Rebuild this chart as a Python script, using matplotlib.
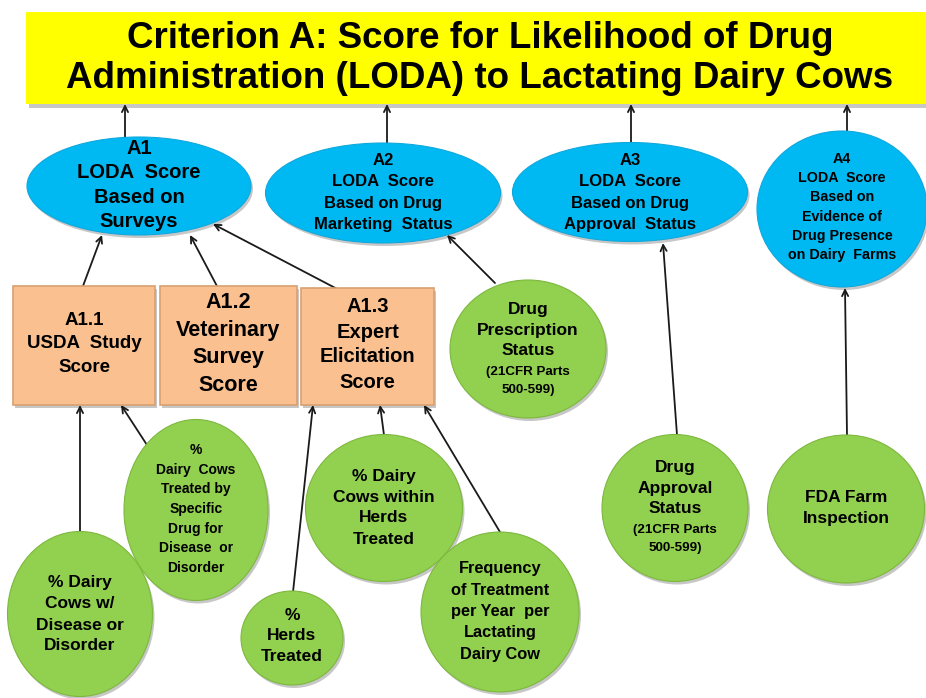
import matplotlib
matplotlib.use("Agg")
import matplotlib.pyplot as plt
from matplotlib.patches import Ellipse, Rectangle

# ---------------- content ----------------
title_lines = ["Criterion A: Score for Likelihood of Drug",
               "Administration (LODA) to Lactating Dairy Cows"]

score_labels = ["A1\nLODA  Score\nBased on\nSurveys",
                "A2\nLODA  Score\nBased on Drug\nMarketing  Status",
                "A3\nLODA  Score\nBased on Drug\nApproval  Status",
                "A4\nLODA  Score\nBased on\nEvidence of\nDrug Presence\non Dairy  Farms"]

box_labels = ["A1.1\nUSDA  Study\nScore",
              "A1.2\nVeterinary\nSurvey\nScore",
              "A1.3\nExpert\nElicitation\nScore"]

input_labels = ["% Dairy\nCows w/\nDisease or\nDisorder",
                "%\nDairy  Cows\nTreated by\nSpecific\nDrug for\nDisease  or\nDisorder",
                "%\nHerds\nTreated",
                "% Dairy\nCows within\nHerds\nTreated",
                "Frequency\nof Treatment\nper Year  per\nLactating\nDairy Cow",
                "Drug\nPrescription\nStatus",
                "Drug\nApproval\nStatus",
                "FDA Farm\nInspection"]
input_notes = ["", "", "", "", "", "(21CFR Parts\n500-599)", "(21CFR Parts\n500-599)", ""]

# ---------------- layout (pixel space) ----------------
W, H = 926, 698
BLUE = "#00B9F2"
GREEN = "#92D050"
PEACH = "#FAC090"
PEACH_EDGE = "#D9A070"
YELLOW = "#FFFF00"
LINE = "#1a1a1a"
FAM = ["Liberation Sans", "DejaVu Sans"]

# ellipses: (cx, cy, w, h, fontsize, linespacing, text_cy)
score_geom = [(139, 186, 224, 98, 14.5, 1.37, 185),
              (383, 193, 235, 100, 12.0, 1.52, 192.5),
              (630, 192, 235, 99, 12.0, 1.52, 192.5),
              (842, 209, 170, 156, 10.3, 1.46, 207)]
# boxes: (x0, y0, x1, y1, fontsize, linespacing, text_cy)
box_geom = [(13, 286, 155, 405, 13.5, 1.53, 344),
            (160, 286, 297, 405, 15.5, 1.4, 344),
            (301, 288, 434, 405, 14.5, 1.4, 344.5)]
# circles: (cx, cy, w, h, fontsize, linespacing, text_cy)
input_geom = [(80, 614, 145, 165, 12.5, 1.5, 614.5),
              (196, 510, 144, 181, 10.0, 1.5, 509),
              (292, 638, 102, 94, 12.5, 1.47, 636),
              (384, 508, 157, 147, 12.5, 1.5, 507.5),
              (500, 612, 158, 160, 11.8, 1.53, 611.5),
              (528, 349, 156, 138, 12.5, 1.42, 330),
              (675, 508, 146, 147, 12.5, 1.42, 488),
              (846, 509, 157, 148, 12.5, 1.5, 508)]
note_y = [None, None, None, None, None, 381, 539, None]

# arrows: (tail, head)
arrows = [((125, 138), (125, 104)), ((387, 143), (387, 104)),
          ((631, 143), (631, 104)), ((847, 131), (847, 104)),
          ((83, 286), (102, 235)), ((218, 288), (190, 235)),
          ((343, 292), (213, 224)),
          ((495, 283), (447, 235)), ((677, 435), (663, 243)),
          ((847, 435), (845, 288)),
          ((80, 533), (80, 405)), ((147, 445), (121, 405)),
          ((293, 592), (313, 405)), ((384, 435), (380, 405)),
          ((500, 532), (424, 405))]

fig = plt.figure(figsize=(W / 100, H / 100), dpi=100)
ax = fig.add_axes([0, 0, 1, 1])
ax.set_xlim(0, W)
ax.set_ylim(H, 0)
ax.axis("off")

SH = dict(color="#000000", alpha=0.22, lw=0)

# banner
ax.add_patch(Rectangle((29, 16), 900, 92, zorder=1, **SH))
ax.add_patch(Rectangle((26, 12), 900, 92, facecolor=YELLOW, edgecolor="none", zorder=2))
ax.text(480, 38, title_lines[0], ha="center", va="center", fontsize=26.5,
        fontweight="bold", family=FAM, zorder=3)
ax.text(480, 78, title_lines[1], ha="center", va="center", fontsize=26.5,
        fontweight="bold", family=FAM, zorder=3)

# arrows (drawn beneath shapes)
for (t, h) in arrows:
    ax.annotate("", xy=h, xytext=t, zorder=2,
                arrowprops=dict(arrowstyle="->", lw=1.3, color=LINE,
                                mutation_scale=11, shrinkA=0, shrinkB=0))

# score ellipses
for lab, (cx, cy, w, h, fs, ls, ty) in zip(score_labels, score_geom):
    ax.add_patch(Ellipse((cx + 2, cy + 3), w, h, zorder=3, **SH))
    ax.add_patch(Ellipse((cx, cy), w, h, facecolor=BLUE, edgecolor="#10A8DC",
                         lw=0.8, zorder=4))
    ax.text(cx, ty, lab, ha="center", va="center", fontsize=fs,
            fontweight="bold", family=FAM, linespacing=ls, zorder=5)

# boxes
for lab, (x0, y0, x1, y1, fs, ls, ty) in zip(box_labels, box_geom):
    ax.add_patch(Rectangle((x0 + 2, y0 + 3), x1 - x0, y1 - y0, zorder=3, **SH))
    ax.add_patch(Rectangle((x0, y0), x1 - x0, y1 - y0, facecolor=PEACH,
                           edgecolor=PEACH_EDGE, lw=1.2, zorder=4))
    ax.text((x0 + x1) / 2, ty, lab, ha="center", va="center",
            fontsize=fs, fontweight="bold", family=FAM, linespacing=ls, zorder=5)

# input circles
for i, (lab, note, g) in enumerate(zip(input_labels, input_notes, input_geom)):
    cx, cy, w, h, fs, ls, ty = g
    z = 6 + 2 * i
    ax.add_patch(Ellipse((cx + 2, cy + 3), w, h, zorder=z, **SH))
    ax.add_patch(Ellipse((cx, cy), w, h, facecolor=GREEN, edgecolor="#7DB83E",
                         lw=0.8, zorder=z + 0.5))
    ax.text(cx, ty, lab, ha="center", va="center", fontsize=fs,
            fontweight="bold", family=FAM, linespacing=ls, zorder=z + 1)
    if note:
        ax.text(cx, note_y[i], note, ha="center", va="center", fontsize=9.6,
                fontweight="bold", family=FAM, linespacing=1.6, zorder=z + 1)

fig.savefig("out.png", dpi=100)
